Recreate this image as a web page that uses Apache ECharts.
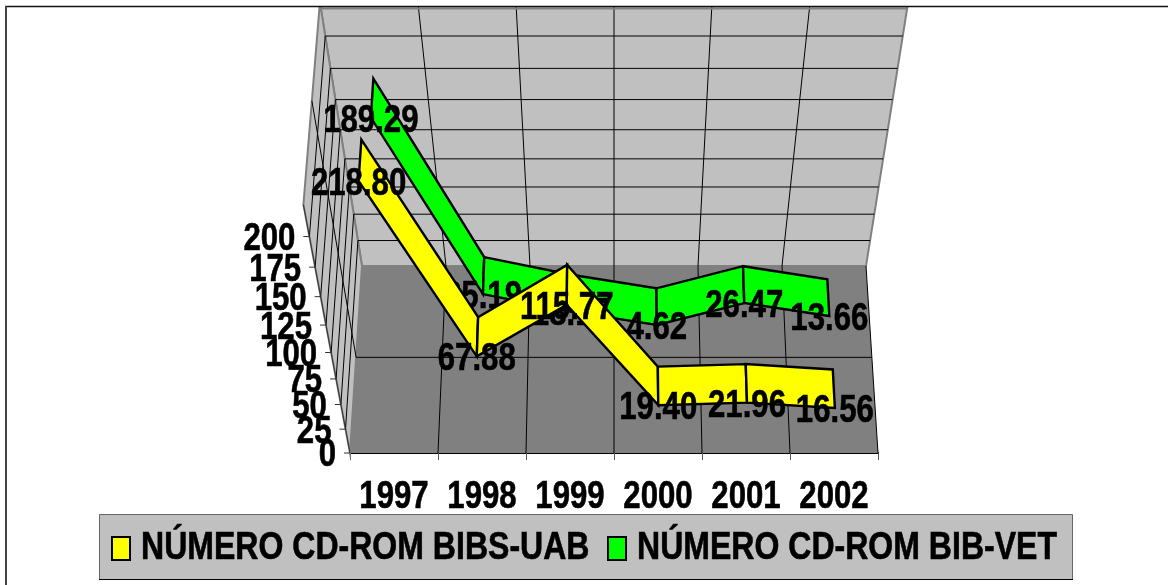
<!DOCTYPE html>
<html><head><meta charset="utf-8">
<style>html,body{margin:0;padding:0;background:#fff}#c{width:1168px;height:585px}</style>
<script src="https://cdn.jsdelivr.net/npm/echarts@6/dist/echarts.min.js"></script>
</head><body><div id="c"></div>
<script>
// ---- data ----
const years = ['1997','1998','1999','2000','2001','2002'];
const bibsUab = [218.80, 67.88, 115.77, 19.40, 21.96, 16.56];
const bibVet = [189.29, 35.19, 18.17, 4.62, 26.47, 13.66];
const valueTicks = [0,25,50,75,100,125,150,175,200];
const gridValues = [25,50,75,100,125,150,175,200];
const nameUab = 'NÚMERO CD-ROM BIBS-UAB';
const nameVet = 'NÚMERO CD-ROM BIB-VET';

// ---- perspective: ECharts' grid gives the front plane; depth is projected from it ----
const FONT = 'bold 38px "Liberation Sans",Arial,sans-serif';
const NARROW = 0.82;
const GRID = {left:350, width:528, bottom:132, height:279};
const CX = GRID.left + GRID.width/2, BASE = 585-GRID.bottom;
const YMAX = 225, RISE = -0.15, DEEP = 0.0476, BACK = 174.3, FORESHORTEN = 0.009;
function project(api, cat, val, z){
  const p = api.coord([0, val]);
  const px = p[0] + cat*api.size([1,0])[0];
  const Y = (BASE-p[1])/GRID.height, w = 1+RISE*Y+DEEP*z;
  const py = BASE-(BASE-p[1])*(1-FORESHORTEN*z);
  return [CX+(px-CX)/w, (py-BACK*z)/w];
}
const L=-0.5, R=5.5, n=years.length;
const WALL='#c0c0c0', FLOOR='#808080', EDGE='#808080';
const poly=(points,fill,stroke,lw,z2)=>({type:'polygon',z2:z2||0,shape:{points},style:{fill,stroke,lineWidth:lw||0,lineJoin:'miter'}});
const line=(a,b,stroke,lw,z2)=>({type:'line',z2:z2||1,shape:{x1:a[0],y1:a[1],x2:b[0],y2:b[1]},style:{stroke,lineWidth:lw||1}});
const label=(text,x,y,align,z2)=>({type:'text',z2:z2||5,x,y,scaleX:NARROW,style:{text,x:0,y:0,font:FONT,fill:'#000',stroke:'#000',lineWidth:.6,align:align||'center',verticalAlign:'middle'}});

function frame(params, api){
  const P=(c,v,z)=>project(api,c,v,z), ch=[];
  ch.push(poly([P(L,0,1),P(R,0,1),P(R,YMAX,1),P(L,YMAX,1)],WALL,EDGE,2));
  ch.push(poly([P(L,0,0),P(L,0,1),P(L,YMAX,1),P(L,YMAX,0)],WALL,EDGE,2));
  ch.push(poly([P(L,0,0),P(R,0,0),P(R,0,1),P(L,0,1)],FLOOR));
  gridValues.forEach(v=>{
    ch.push(line(P(L,v,1),P(R,v,1),'#000'));
    ch.push(line(P(L,v,0),P(L,v,1),'#000'));
  });
  for(let i=1;i<n;i++){
    const c=L+i;
    ch.push(line(P(c,0,1),P(c,YMAX,1),'#000'));
    ch.push(line(P(c,0,0),P(c,0,1),'#000'));
  }
  ch.push(line(P(L,0,.5),P(R,0,.5),'#000'));
  ch.push(line(P(L,0,.5),P(L,YMAX,.5),'#000'));
  ch.push(line(P(R,0,0),P(R,0,1),'#000'));
  ch.push(line(P(L,0,0),P(L,YMAX,0),'#333'));
  valueTicks.forEach(v=>{
    const a=P(L,v,0);
    ch.push(line(a,[a[0]-6,a[1]],'#333'));
    ch.push(label(String(v),a[0]-14,a[1]+3,'right'));
  });
  years.forEach((y,i)=>{
    const a=api.coord([i,0]);
    ch.push(label(y,a[0],a[1]+45,'center'));
  });
  return {type:'group',children:ch};
}
const bandUab=[.15,.35], bandVet=[.65,.85];
function ribbon(values,band){
  return function(params,api){
    const i=params.dataIndex, v=values[i], ch=[];
    const front=project(api,i,v,band[0]);
    if(i<values.length-1){
      const v2=values[i+1];
      ch.push({type:'polygon',z2:i+1,shape:{points:[front,project(api,i,v,band[1]),project(api,i+1,v2,band[1]),project(api,i+1,v2,band[0])]},
        style:{fill:api.visual('color'),stroke:'#000',lineWidth:2.4,lineJoin:'miter',miterLimit:4}});
    }
    ch.push(label(v.toFixed(2),front[0],front[1]+3.5,'center',50));
    return {type:'group',children:ch};
  };
}
// legend box is drawn so its text can be condensed like the reference's narrow face
const legendText=(text,x)=>({type:'text',z:21,silent:true,x,y:548.5,scaleX:.843,style:{text,x:0,y:0,font:FONT,fill:'#000',stroke:'#000',lineWidth:.6,align:'left',verticalAlign:'middle'}});
const legendParts=[
  {type:'rect',z:21,silent:true,shape:{x:99.5,y:514.5,width:973,height:65},style:{fill:'#c0c0c0',stroke:'#666',lineWidth:1}},
  {type:'line',z:21,silent:true,shape:{x1:99,y1:579.5,x2:1073,y2:579.5},style:{stroke:'#000',lineWidth:1}},
  {type:'rect',z:21,silent:true,shape:{x:112,y:537,width:18,height:23},style:{fill:'#ffff00',stroke:'#000',lineWidth:2}},
  {type:'rect',z:21,silent:true,shape:{x:608,y:537,width:18,height:23},style:{fill:'#00ff00',stroke:'#000',lineWidth:2}},
  legendText(nameUab,141),legendText(nameVet,637)
];
const chart=echarts.init(document.getElementById('c'),null,{renderer:'canvas'});
chart.setOption({
  animation:false,
  backgroundColor:'#fff',
  grid:Object.assign({containLabel:false},GRID),
  xAxis:{type:'category',data:years,
    axisLine:{show:true,lineStyle:{color:'#000',width:2}},
    axisTick:{show:true,length:7,alignWithLabel:false,lineStyle:{color:'#555',width:1}},
    axisLabel:{show:false},
    splitLine:{show:false}},
  yAxis:{type:'value',min:0,max:YMAX,interval:25,show:false},
  graphic:[
    {type:'rect',z:20,silent:true,shape:{x:0,y:0,width:1168,height:6},style:{fill:'#fff'}},
    {type:'line',z:20,silent:true,shape:{x1:320,y1:8.5,x2:908,y2:8.5},style:{stroke:'#808080',lineWidth:2}},
    {type:'line',z:20,silent:true,shape:{x1:5,y1:6.5,x2:1168,y2:6.5},style:{stroke:'#111',lineWidth:1.5}},
    {type:'line',z:20,silent:true,shape:{x1:6,y1:6,x2:6,y2:585},style:{stroke:'#444',lineWidth:2}}
  ].concat(legendParts),
  series:[
    {type:'custom',id:'frame',coordinateSystem:'cartesian2d',z:1,silent:true,clip:false,data:[[0,0]],renderItem:frame,encode:{x:0,y:1}},
    {type:'custom',name:nameVet,coordinateSystem:'cartesian2d',z:3,clip:false,itemStyle:{color:'#00ff00'},data:bibVet.map((v,i)=>[i,v]),renderItem:ribbon(bibVet,bandVet),encode:{x:0,y:1}},
    {type:'custom',name:nameUab,coordinateSystem:'cartesian2d',z:4,clip:false,itemStyle:{color:'#ffff00'},data:bibsUab.map((v,i)=>[i,v]),renderItem:ribbon(bibsUab,bandUab),encode:{x:0,y:1}}
  ]
});
</script></body></html>
